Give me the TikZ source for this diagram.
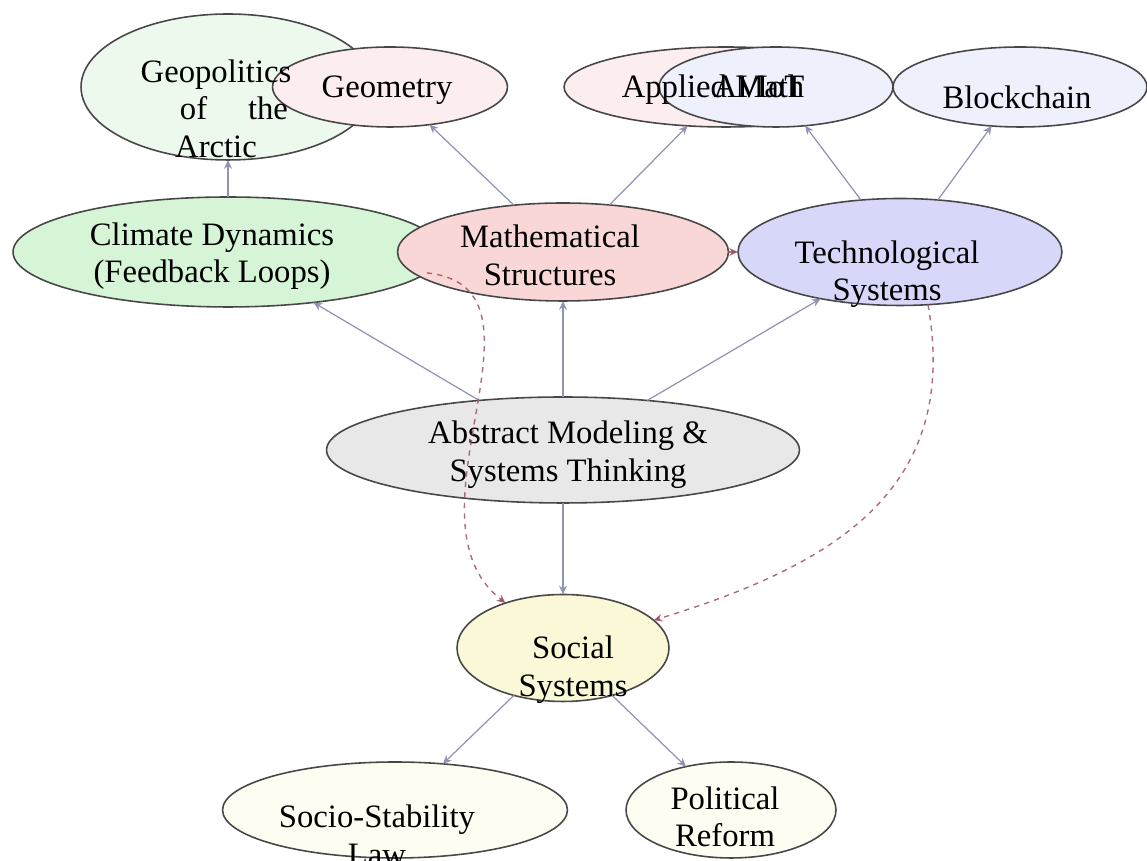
\documentclass[tikz,border=0pt]{standalone}
\usepackage{fontspec}
\setmainfont{Liberation Serif}
\usetikzlibrary{arrows.meta, shapes.geometric}

\definecolor{edgegray}{RGB}{146,146,182}
\definecolor{feedred}{RGB}{158,82,98}
\definecolor{paleGreen}{RGB}{238,249,238}
\definecolor{palePink}{RGB}{252,238,238}
\definecolor{paleBlue}{RGB}{238,240,252}
\definecolor{climGreen}{RGB}{214,245,214}
\definecolor{mathPink}{RGB}{250,215,215}
\definecolor{techBlue}{RGB}{215,216,249}
\definecolor{absGray}{RGB}{232,232,232}
\definecolor{socYellow}{RGB}{250,248,214}
\definecolor{paleYellow}{RGB}{253,253,241}

\begin{document}
\begin{tikzpicture}[x=0.02cm, y=0.02cm,
  bubble/.style={draw=black!72, line width=0.9pt, shape=ellipse, inner sep=0pt, outer sep=0pt},
  txt/.style={font=\fontsize{18.6}{21.3}\selectfont, align=center, inner sep=0pt},
  link/.style={draw=edgegray, line width=0.7pt, -{Stealth[length=5pt, width=4.5pt]}},
  feedback/.style={draw=feedred, draw opacity=0.85, line width=0.8pt, dash pattern=on 3pt off 3pt, -{Stealth[length=5pt, width=4.5pt]}}]
\useasboundingbox (0,0) rectangle (1147,861);

% ellipses first, the texts go on top of them afterwards
\node[bubble, fill=paleGreen, minimum width=5.88cm, minimum height=2.92cm] (geo) at (228,774) {};
\node[bubble, fill=palePink, minimum width=4.7cm, minimum height=1.6cm] (geom) at (390,774) {};
\node[bubble, fill=palePink, minimum width=6.48cm, minimum height=1.6cm] (appl) at (726,774) {};
\node[bubble, fill=paleBlue, minimum width=4.68cm, minimum height=1.6cm] (aiot) at (776,774) {};
\node[bubble, fill=paleBlue, minimum width=5.08cm, minimum height=1.6cm] (blk) at (1020,774) {};
\node[bubble, fill=climGreen, minimum width=8.6cm, minimum height=2.2cm] (clim) at (228,609) {};
\node[bubble, fill=mathPink, minimum width=6.62cm, minimum height=1.96cm] (math) at (563,609) {};
\node[bubble, fill=techBlue, minimum width=6.48cm, minimum height=2.14cm] (tech) at (900,609) {};
\node[bubble, fill=absGray, minimum width=9.46cm, minimum height=2.12cm] (abs) at (563,411) {};
\node[bubble, fill=socYellow, minimum width=4.24cm, minimum height=2.14cm] (soc) at (563,213) {};
\node[bubble, fill=paleYellow, minimum width=6.9cm, minimum height=1.92cm] (socio) at (395,51) {};
\node[bubble, fill=paleYellow, minimum width=4.2cm, minimum height=1.92cm] (pol) at (731,51) {};

\node[txt] (geo-txt) at (216,752.5) {Geopolitics\\ \hspace*{1.1em}of\hspace{1.25em}the\\ Arctic};
\node[txt] (geom-txt) at (387,771) {Geometry};
\node[txt] (appl-txt) at (713,771) {Applied Math};
\node[txt] (aiot-txt) at (759,774) {AI/IoT};
\node[txt] (blk-txt) at (1017,763.5) {Blockchain};
\node[txt] (clim-txt) at (212,605) {Climate Dynamics\\ (Feedback Loops)};
\node[txt] (math-txt) at (550,605.5) {Mathematical\\ Structures};
\node[txt] (tech-txt) at (887,587) {Technological\\ Systems};
\node[txt] (abs-txt) at (568,406.5) {Abstract Modeling \&\\ Systems Thinking};
\node[txt] (soc-txt) at (573,191.5) {Social\\ Systems};
\node[txt] (socio-txt) at (377,25.5) {Socio-Stability\\ Law};
\node[txt] (pol-txt) at (725,44) {Political\\ Reform};

\foreach \from/\to in {clim/geo, math/geom, math/appl, tech/aiot, tech/blk, abs/clim, abs/math, abs/tech, abs/soc, soc/socio, soc/pol}
\draw [link] (\from) -- (\to);

% dashed feedback influences
\draw [feedback] (clim) to[out=-6, in=142, looseness=1.05] (soc);
\draw [feedback] (math) -- (tech);
\draw [feedback] (tech.-62) to[out=-80, in=17, looseness=1.15] (soc);
\end{tikzpicture}
\end{document}
